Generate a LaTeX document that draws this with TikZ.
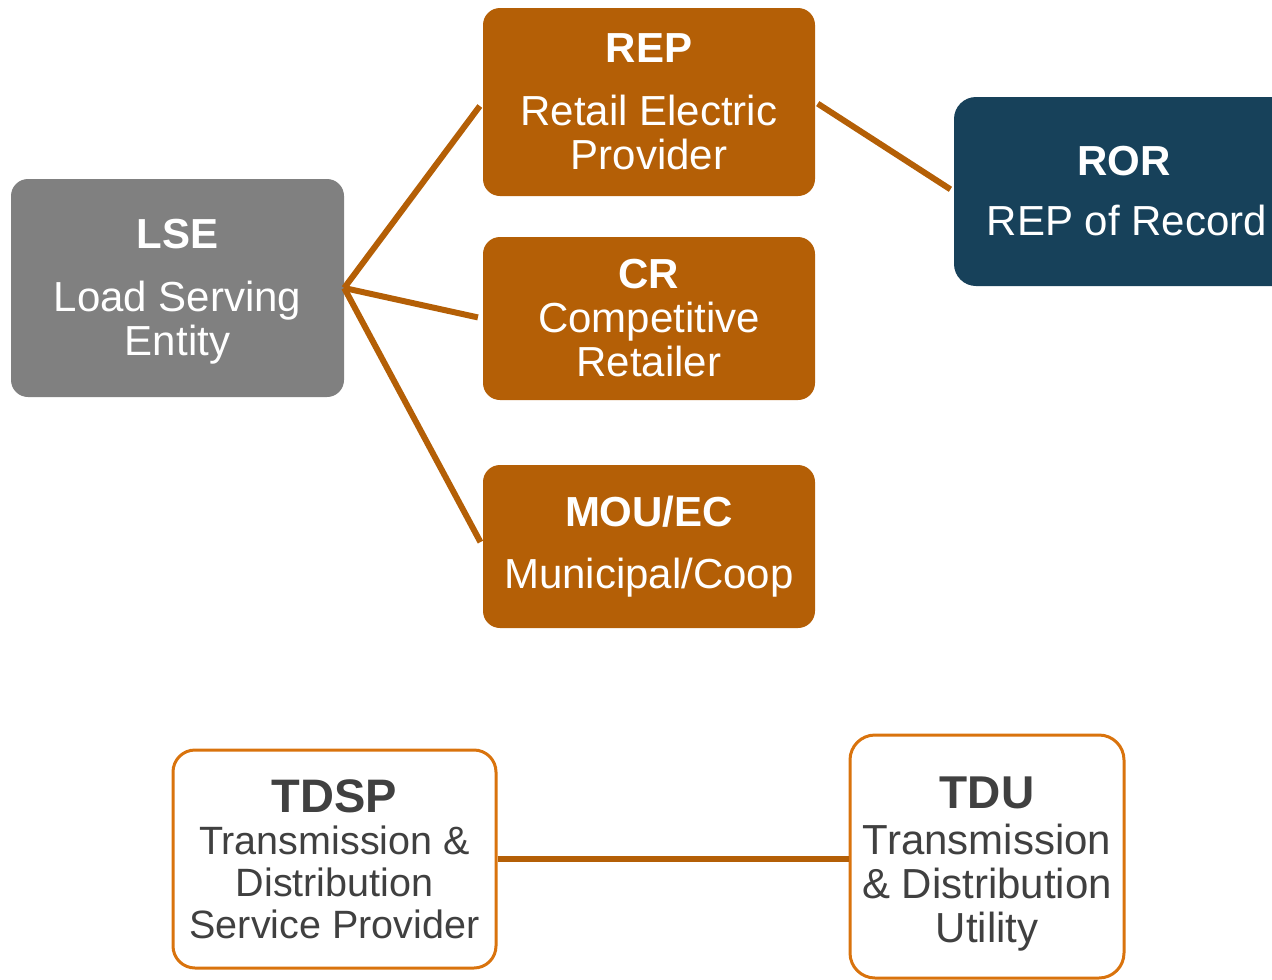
\documentclass[tikz,border=0pt]{standalone}
\usepackage{fontspec}
\setmainfont{Liberation Sans}
\usetikzlibrary{calc}
\definecolor{rust}{HTML}{B45F06}
\definecolor{ltorange}{HTML}{D9730D}
\definecolor{slate}{HTML}{808080}
\definecolor{navy}{HTML}{17415A}
\definecolor{ink}{HTML}{404040}
\tikzset{
  x=1pt, y=-1pt,
  filledbox/.style={rectangle, rounded corners=17pt, inner sep=0pt,
    align=center, text=white, font=\fontsize{42}{44}\selectfont},
  outlinebox/.style={rectangle, rounded corners=22pt, inner sep=0pt,
    draw=ltorange, line width=3pt, fill=white, align=center, text=ink},
  link/.style={draw=rust, line width=6pt, shorten >=5pt},
}
\begin{document}
\begin{tikzpicture}
\useasboundingbox (0,0) rectangle (1272,980);

% upper group: load serving entity and its kinds
\node[filledbox, fill=slate, minimum width=333, minimum height=218] (lse) at (177.5,288)
  {\rule{0pt}{36pt}\textbf{LSE}\\[19pt]Load Serving\\Entity};
\node[filledbox, fill=rust, minimum width=332, minimum height=188] (rep) at (649,102)
  {\textbf{REP}\\[19pt]Retail Electric\\Provider};
\node[filledbox, fill=rust, minimum width=332, minimum height=163] (cr) at (649,318.5)
  {\textbf{CR}\\Competitive\\Retailer};
\node[filledbox, fill=rust, minimum width=332, minimum height=163] (mou) at (649,546.5)
  {\textbf{MOU/EC}\\[18pt]Municipal/Coop};
\node[filledbox, fill=navy, rounded corners=22pt, minimum width=340, minimum height=189] (ror) at (1124,191.5)
  {\textbf{ROR}\\[16pt]\hspace*{6pt}REP of Record};

\draw[link] (lse.east) -- (rep.west);
\draw[link] (lse.east) -- (cr.west);
\draw[link] (lse.east) -- (mou.west);
\draw[link, shorten <=3pt, shorten >=4pt] (rep.east) -- (ror.west);

% lower group: wires companies
\node[outlinebox, minimum width=323, minimum height=218,
      font=\fontsize{39.5}{42}\selectfont] (tdsp) at (334.5,859)
  {{\fontsize{47}{47}\selectfont\bfseries TDSP}\\[0pt]
   Transmission \&\\Distribution\\Service Provider};
\node[outlinebox, rounded corners=25pt, minimum width=274, minimum height=243,
      font=\fontsize{42}{44}\selectfont] (tdu) at (987,856.5)
  {\rule{0pt}{46pt}{\fontsize{46}{46}\selectfont\bfseries TDU}\\[2pt]
   Transmission\\\& Distribution\\Utility};

\draw[link, shorten >=0pt] (tdsp.east) -- (tdsp.east -| tdu.west);
\end{tikzpicture}
\end{document}
